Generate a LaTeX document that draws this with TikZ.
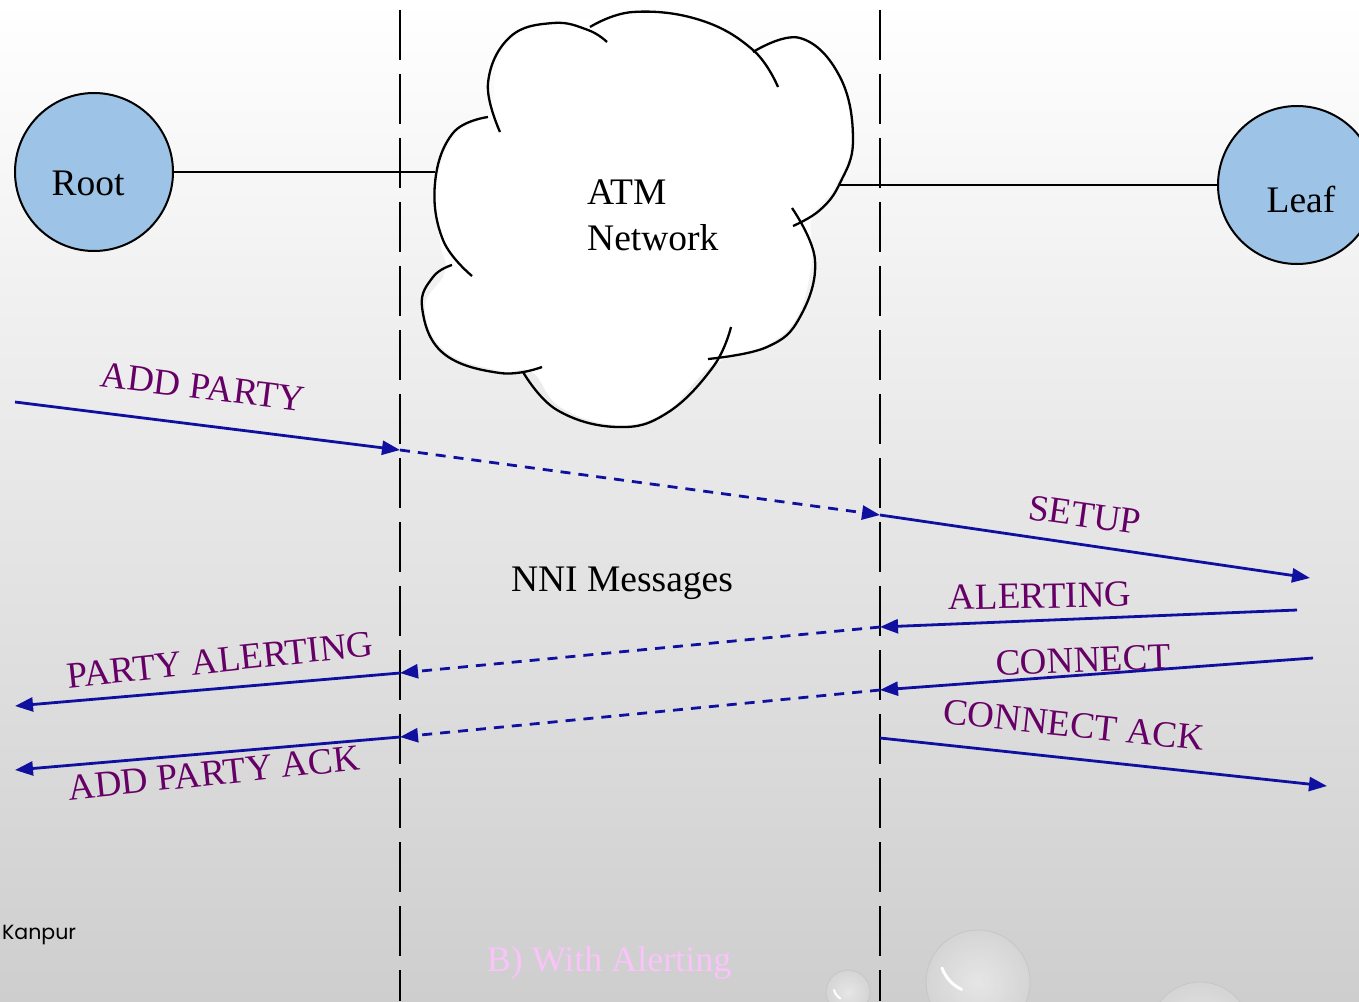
\documentclass[tikz,border=0pt]{standalone}
\usepackage{fontspec}
\setmainfont{Liberation Serif}
\newfontfamily\footerfont{Poppins}
\usetikzlibrary{arrows.meta}
\definecolor{msgblue}{RGB}{16,16,160}
\definecolor{lblpurple}{RGB}{102,0,102}
\definecolor{nodeblue}{RGB}{157,195,230}
\definecolor{captionpink}{RGB}{250,195,250}
\definecolor{bgmid}{RGB}{238,238,238}
\definecolor{bgbot}{RGB}{206,206,206}
\begin{document}
\begin{tikzpicture}[x=1pt,y=-1pt,
  lifeline/.style={line width=2pt,dash pattern=on 50pt off 14pt},
  endpoint/.style={circle,draw=black,line width=2pt,fill=nodeblue,minimum size=158pt,inner sep=0pt},
  msg/.style={draw=msgblue,line width=2.8pt,-{Triangle[length=18pt,width=14pt]}},
  fwd/.style={msg,dash pattern=on 10pt off 8pt},
  msglabel/.style={text=lblpurple,font=\fontsize{37}{41}\selectfont,inner sep=0pt},
  bigtext/.style={font=\fontsize{37.5}{46}\selectfont,inner sep=0pt},
  cloudarc/.style={line width=2.3pt,smooth,tension=0.7},
  droplet/.style={inner color=white!85!gray,outer color=gray!32,opacity=0.8},
]
% background
\useasboundingbox (0,0) rectangle (1359,1001);
\shade[top color=white,middle color=bgmid,bottom color=bgbot] (0,0) rectangle (1359,1001);

% water droplets
\shade[droplet] (978,982) circle (52);
\draw[gray!45,line width=0.8pt] (978,982) circle (52);
\draw[white,line width=3pt,line cap=round] (942,968) arc[start angle=160,end angle=115,radius=38];
\shade[droplet] (848,992) circle (22);
\draw[gray!45,line width=0.8pt] (848,992) circle (22);
\draw[white,line width=2pt,line cap=round] (834,990) arc[start angle=165,end angle=120,radius=14];
\shade[droplet] (1200,1032) circle (50);
\draw[gray!45,line width=0.8pt] (1200,1032) circle (50);

% lifelines
\coordinate (l1top) at (400,10);
\coordinate (l1bot) at (400,1001);
\coordinate (l2top) at (880,10);
\coordinate (l2bot) at (880,1001);
\draw[lifeline] (l1top) -- (l1bot);
\draw[lifeline] (l2top) -- (l2bot);

% ATM network cloud
\fill[white] plot[smooth cycle,tension=0.7] coordinates {
  (437,183) (455,135) (490,110) (502,50) (553,25) (633,14) (700,22) (753,52)
  (800,40) (838,77) (851,140) (836,185) (812,218) (812,260) (798,315) (767,345) (713,365)
  (667,411) (617,425) (560,407) (532,372) (500,371) (445,351) (425,307) (445,272) (440,240)};
\draw[cloudarc] plot coordinates {(500,132) (488,83) (510,37) (553,23) (588,30) (607,42)};
\draw[cloudarc] plot coordinates {(590,27) (633,12) (700,20) (753,50) (778,87)};
\draw[cloudarc] plot coordinates {(753,52) (800,38) (840,77) (853,140) (840,183) (820,210) (793,226)};
\draw[cloudarc] plot coordinates {(792,208) (815,260) (800,317) (767,347) (708,359)};
\draw[cloudarc] plot coordinates {(731,327) (713,367) (667,413) (617,427) (557,410) (523,372)};
\draw[cloudarc] plot coordinates {(542,367) (500,373) (443,353) (422,307) (433,277) (452,265)};
\draw[cloudarc] plot coordinates {(472,276) (443,240) (435,183) (453,133) (488,117)};
\coordinate (cloudW) at (435,172);
\coordinate (cloudE) at (840,185);
\node[bigtext,align=left,anchor=west] (atm) at (587,215) {ATM\\Network};

% end systems
\node[endpoint] (root) at (94,172) {};
\node[endpoint] (leaf) at (1297,185) {};
\node[bigtext] (roottext) at (88,183) {Root};
\node[bigtext] (leaftext) at (1301,199) {Leaf};
\draw[line width=2pt] (root.east) -- (cloudW);
\draw[line width=2pt] (cloudE) -- (leaf.west);

% message endpoints
\coordinate (ap0) at (15,402);
\coordinate (ap1) at (400,450);
\coordinate (ap2) at (880,515);
\coordinate (ap3) at (1310,578);
\coordinate (al0) at (1297,610);
\coordinate (al1) at (880,627);
\coordinate (al2) at (400,673);
\coordinate (al3) at (15,706);
\coordinate (cn0) at (1313,658);
\coordinate (cn1) at (880,690);
\coordinate (cn2) at (400,737);
\coordinate (cn3) at (15,770);
\coordinate (ca0) at (880,738);
\coordinate (ca1) at (1327,786);

% messages
\draw[msg] (ap0) -- (ap1);
\draw[fwd] (ap1) -- (ap2);
\draw[msg] (ap2) -- (ap3);
\draw[msg] (al0) -- (al1);
\draw[fwd] (al1) -- (al2);
\draw[msg] (al2) -- (al3);
\draw[msg] (cn0) -- (cn1);
\draw[fwd] (cn1) -- (cn2);
\draw[msg] (cn2) -- (cn3);
\draw[msg] (ca0) -- (ca1);

% message labels
\node[msglabel,rotate=-7] (lbladd) at (203,387) {ADD PARTY};
\node[msglabel,rotate=-8] (lblsetup) at (1085,515) {SETUP};
\node[msglabel,rotate=1] (lblalert) at (1040,596) {ALERTING};
\node[msglabel,rotate=6] (lblpalert) at (220,660) {PARTY ALERTING};
\node[msglabel,rotate=2] (lblconn) at (1083,660) {CONNECT};
\node[msglabel,rotate=-6] (lblconnack) at (1074,725) {CONNECT ACK};
\node[msglabel,rotate=6] (lbladdack) at (214,773) {ADD PARTY ACK};
\node[bigtext] (nni) at (622,583) {NNI Messages};

% footer
\node[anchor=west,inner sep=0pt,font=\footerfont\fontsize{20.5}{24}\selectfont] (footer) at (2,935) {Kanpur};
\node[inner sep=0pt,text=captionpink,font=\fontsize{36}{40}\selectfont] (caption) at (609,963) {B) With Alerting};
\end{tikzpicture}
\end{document}
